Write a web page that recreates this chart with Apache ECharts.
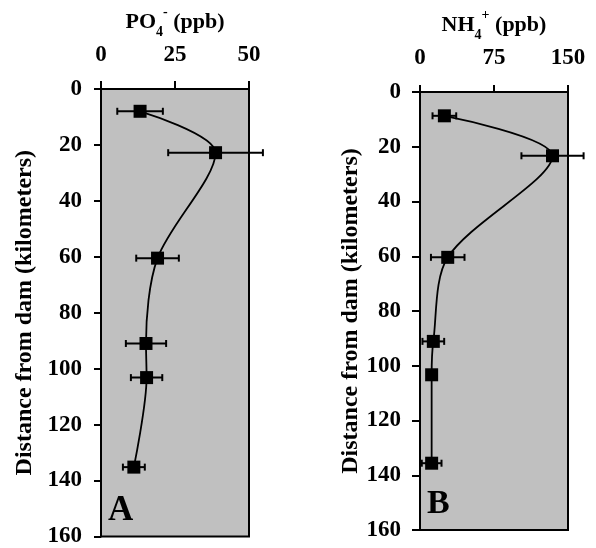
<!DOCTYPE html>
<html>
<head>
<meta charset="utf-8">
<script src="https://cdn.jsdelivr.net/npm/echarts@6/dist/echarts.min.js"></script>
<style>
  html, body { margin: 0; padding: 0; background: #fff; }
  #main { width: 596px; height: 548px; }
</style>
</head>
<body>
<div id="main"></div>
<script>
// distance from dam (km) and concentrations
var distA = [8, 22.8, 60.5, 91, 103.2, 135.2];
var po4 = [13.2, 38.7, 19.1, 15.2, 15.4, 11.1];
var po4Err = [7.7, 16, 7.2, 6.8, 5.3, 3.7];

var distB = [8.7, 23.3, 60.4, 91.1, 103.3, 135.6];
var nh4 = [24.7, 134.3, 28.1, 13.5, 11.8, 11.8];
var nh4Err = [12, 31.5, 17, 11, 3, 10];

var ticksA = [0, 25, 50];
var ticksB = [0, 75, 150];
var distTicks = [0, 160, 20];

var FONT = "'Liberation Serif', 'Times New Roman', serif";

function pairs(xs, ys, es) {
  var out = [];
  for (var i = 0; i < xs.length; i++) {
    out.push(es ? [xs[i], ys[i], es[i]] : [xs[i], ys[i]]);
  }
  return out;
}

function errRender(params, api) {
  var x = api.value(0), y = api.value(1), e = api.value(2);
  var p1 = api.coord([x - e, y]);
  var p2 = api.coord([x + e, y]);
  var st = { stroke: '#000', lineWidth: 2 };
  return {
    type: 'group',
    children: [
      { type: 'line', shape: { x1: p1[0], y1: p1[1], x2: p2[0], y2: p2[1] }, style: st },
      { type: 'line', shape: { x1: p1[0], y1: p1[1] - 3.5, x2: p1[0], y2: p1[1] + 3.5 }, style: st },
      { type: 'line', shape: { x1: p2[0], y1: p2[1] - 3.5, x2: p2[0], y2: p2[1] + 3.5 }, style: st }
    ]
  };
}

var richName = {
  b: { fontFamily: FONT, fontWeight: 'bold', fontSize: 22, color: '#000', lineHeight: 34 },
  sub: { fontFamily: FONT, fontWeight: 'bold', fontSize: 14, color: '#000', lineHeight: 14, verticalAlign: 'bottom' },
  sup: { fontFamily: FONT, fontWeight: 'bold', fontSize: 14, color: '#000', lineHeight: 28, verticalAlign: 'top' }
};

function xAxisCfg(idx, name, ticks, tickLen) {
  return {
    gridIndex: idx,
    type: 'value',
    position: 'top',
    min: ticks[0],
    max: ticks[ticks.length - 1],
    interval: ticks[1] - ticks[0],
    name: name,
    nameLocation: 'middle',
    nameGap: 49,
    nameTextStyle: { rich: richName },
    axisLine: { show: true, lineStyle: { color: '#000', width: 2 } },
    axisTick: { show: true, length: tickLen, lineStyle: { color: '#000', width: 2 } },
    axisLabel: { color: '#000', fontFamily: FONT, fontWeight: 'bold', fontSize: 23, margin: 22 },
    splitLine: { show: false }
  };
}

function yAxisCfg(idx, tickLen, gap) {
  return {
    gridIndex: idx,
    type: 'value',
    inverse: true,
    min: distTicks[0],
    max: distTicks[1],
    interval: distTicks[2],
    name: 'Distance from dam (kilometers)',
    nameLocation: 'middle',
    nameRotate: 90,
    nameGap: gap,
    nameTextStyle: { color: '#000', fontFamily: FONT, fontWeight: 'bold', fontSize: 24 },
    axisLine: { show: true, lineStyle: { color: '#000', width: 2 } },
    axisTick: { show: true, length: tickLen, lineStyle: { color: '#000', width: 2 } },
    axisLabel: { color: '#000', fontFamily: FONT, fontWeight: 'bold', fontSize: 23, margin: 19 },
    splitLine: { show: false }
  };
}

function lineSeries(idx, data) {
  return {
    type: 'line',
    xAxisIndex: idx,
    yAxisIndex: idx,
    data: data,
    smooth: 0.3,
    symbol: 'rect',
    symbolSize: 13,
    showAllSymbol: true,
    itemStyle: { color: '#000' },
    lineStyle: { color: '#000', width: 1.8 },
    z: 3
  };
}

function errSeries(idx, data) {
  return {
    type: 'custom',
    xAxisIndex: idx,
    yAxisIndex: idx,
    data: data,
    clip: false,
    renderItem: errRender,
    encode: { x: 0, y: 1 },
    z: 2
  };
}

var chart = echarts.init(document.getElementById('main'));
chart.setOption({
  animation: false,
  backgroundColor: '#fff',
  grid: [
    { left: 101, top: 88, width: 148, height: 450, show: true, backgroundColor: '#c0c0c0', borderColor: '#000', borderWidth: 2 },
    { left: 420, top: 92, width: 148, height: 438, show: true, backgroundColor: '#c0c0c0', borderColor: '#000', borderWidth: 2 }
  ],
  xAxis: [
    xAxisCfg(0, '{b|PO}{sub|4}{sup|-}{b| (ppb)}', ticksA, 8),
    xAxisCfg(1, '{b|NH}{sub|4}{sup|+}{b| (ppb)}', ticksB, 7)
  ],
  yAxis: [
    yAxisCfg(0, 7, 64),
    yAxisCfg(1, 8, 56)
  ],
  graphic: [
    { type: 'text', left: 108, top: 493, style: { text: 'A', fill: '#000', font: 'bold 35px ' + FONT } },
    { type: 'text', left: 427, top: 487, style: { text: 'B', fill: '#000', font: 'bold 34px ' + FONT } }
  ],
  series: [
    errSeries(0, pairs(po4, distA, po4Err)),
    lineSeries(0, pairs(po4, distA)),
    errSeries(1, pairs(nh4, distB, nh4Err)),
    lineSeries(1, pairs(nh4, distB))
  ]
});
</script>
</body>
</html>
